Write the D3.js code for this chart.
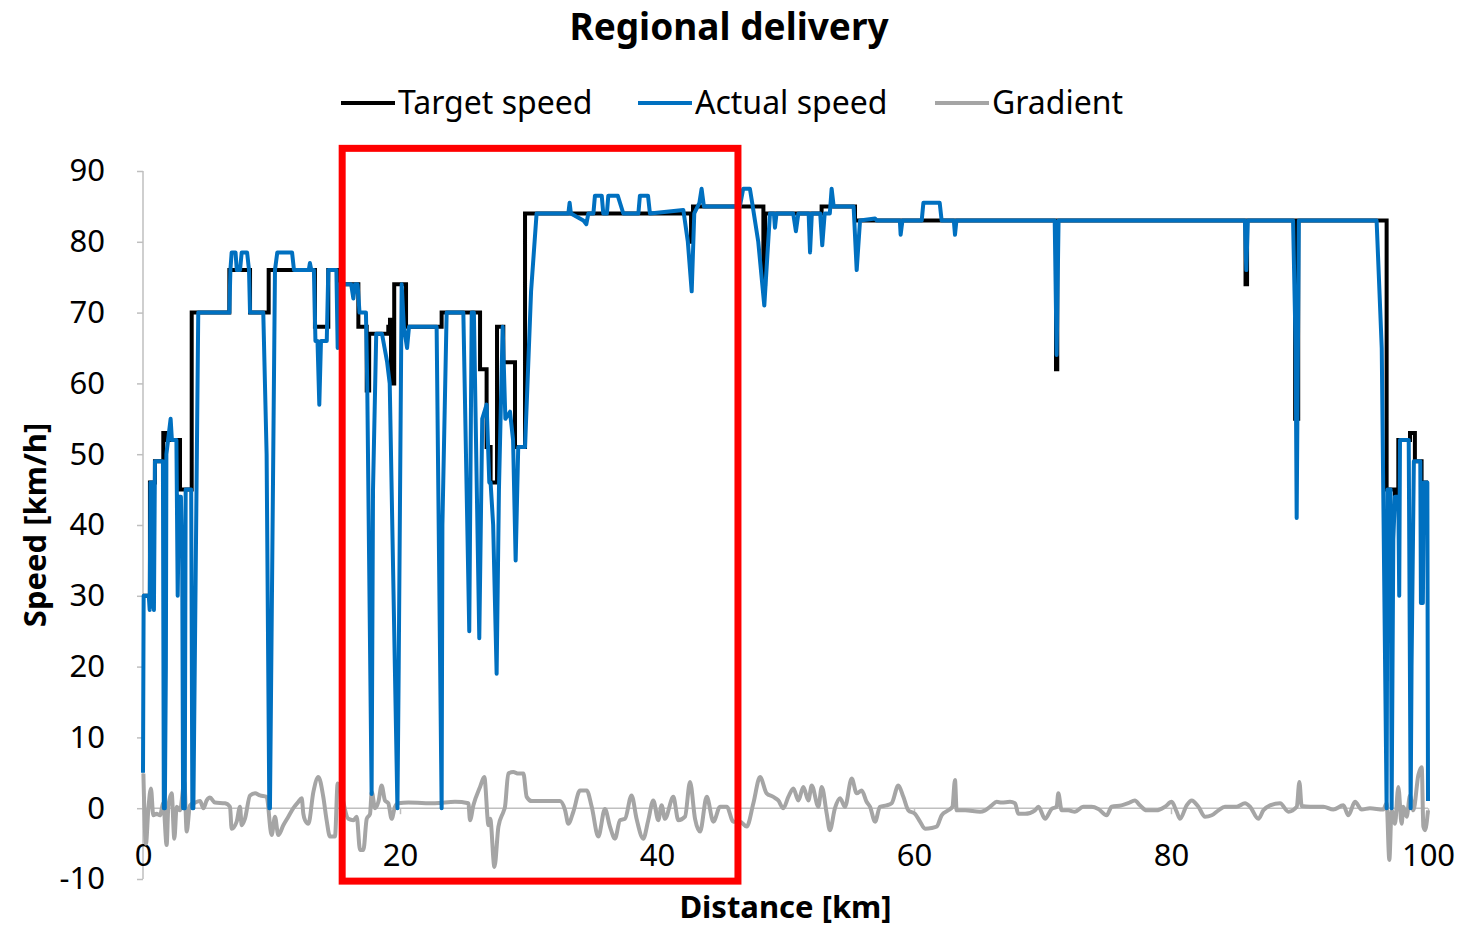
<!DOCTYPE html>
<html>
<head>
    <title>Regional delivery</title>
    <meta charset="utf-8">
    <style type="text/css">
        body { margin: 0; background: #fff; }
        text { font-family: "Noto Sans", "Open Sans", sans-serif; fill: #000; }
        .axis path, .axis line { fill: none; stroke: #bfbfbf; stroke-width: 1.5; }
        .axis text { font-size: 31px; }
        .title { font-size: 37px; font-weight: bold; }
        .axis-title { font-size: 31px; font-weight: bold; }
        .legend text { font-size: 32px; }
    </style>
</head>
<body>
<svg width="1467" height="926"></svg>

<script src="https://cdnjs.cloudflare.com/ajax/libs/d3/7.8.5/d3.min.js"></script>
<script type="text/javascript">
    /*=========DATA=========*/
    var xTicks = [0, 20, 40, 60, 80, 100];
    var yTicks = [-10, 0, 10, 20, 30, 40, 50, 60, 70, 80, 90];
    var seriesNames = ['Target speed', 'Actual speed', 'Gradient'];

    // target speed: step points [km, km/h]
    var targetKm  = [0, 0.54, 0.93, 1.58, 1.80, 2.88, 3.40, 3.79, 6.72, 8.33, 9.78, 13.38, 14.42, 15.25, 16.76, 17.41, 17.60, 19.09, 19.22, 19.30, 19.55, 20.47, 23.24, 26.23, 26.74, 27.05, 27.55, 28.04, 28.95, 29.73, 42.65, 42.80, 48.28, 48.41, 52.81, 55.41, 71.05, 71.15, 85.80, 85.92, 89.66, 89.90, 96.78, 97.43, 97.69, 98.60, 98.98, 99.50, 100];
    var targetVal = [30, 46, 49, 53, 52, 45, 45, 70, 76, 70, 76, 68, 76, 74, 68, 59, 67, 68, 69, 60, 74, 68, 70, 62, 51, 46, 68, 63, 51, 84, 80, 85, 74, 84, 85, 83, 62, 83, 74, 83, 55, 83, 45, 44, 52, 53, 49, 46, 46];

    // actual speed [km, km/h]
    var actualKm  = [0, 0.05, 0.45, 0.52, 0.58, 0.75, 0.80, 0.85, 0.93, 1.55, 1.62, 1.70, 1.78, 1.82, 2.15, 2.25, 2.60, 2.70, 2.80, 2.95, 3.05, 3.12, 3.25, 3.32, 3.75, 3.84, 3.92, 4.30, 6.72, 6.80, 6.90, 7.20, 7.30, 7.55, 7.68, 8.10, 8.25, 8.33, 9.36, 9.62, 9.83, 9.88, 10.27, 10.45, 11.60, 11.75, 12.90, 12.99, 13.10, 13.30, 13.42, 13.58, 13.72, 13.85, 14.30, 14.42, 15.05, 15.15, 15.30, 16.20, 16.37, 16.50, 16.70, 16.85, 17.35, 17.45, 17.79, 17.90, 18.15, 18.60, 18.80, 19.00, 19.20, 19.80, 19.90, 20.13, 20.30, 20.55, 20.70, 22.85, 23.24, 23.30, 23.63, 24.93, 25.39, 25.58, 25.75, 26.17, 26.40, 26.74, 26.95, 27.05, 27.25, 27.52, 27.70, 27.99, 28.20, 28.56, 28.80, 29.00, 29.20, 29.73, 30.20, 30.63, 33.10, 33.20, 33.30, 34.27, 34.50, 34.66, 35.05, 35.17, 35.70, 35.82, 36.10, 36.21, 36.95, 37.38, 38.55, 38.67, 39.30, 39.45, 42.05, 42.40, 42.70, 42.90, 43.30, 43.47, 43.65, 46.45, 46.71, 47.23, 47.45, 47.88, 48.35, 48.79, 49.10, 49.18, 49.30, 50.60, 50.81, 51.00, 51.80, 51.91, 52.05, 52.70, 52.86, 53.05, 53.45, 53.59, 53.75, 55.30, 55.54, 55.80, 56.97, 57.10, 58.90, 58.96, 59.10, 60.60, 60.73, 62.00, 62.15, 63.10, 63.19, 63.30, 70.95, 71.10, 71.25, 85.75, 85.86, 85.98, 89.50, 89.70, 89.78, 89.95, 96.00, 96.40, 96.78, 96.85, 97.09, 97.17, 97.30, 97.43, 97.69, 97.76, 97.82, 98.50, 98.54, 98.65, 98.72, 98.90, 99.40, 99.45, 99.60, 99.68, 99.95, 100];
    var actualVal = [5, 30, 30, 28, 46, 46, 29, 28, 49, 49, 0, 0, 20, 50, 55, 52, 52, 30, 44, 44, 36, 0, 0, 45, 45, 0, 0, 70, 70, 76, 78.5, 78.5, 76, 76, 78.5, 78.5, 76, 70, 70, 50, 0, 0, 76, 78.5, 78.5, 76, 76, 77, 76, 76, 66, 66, 57, 66, 66, 76, 76, 65, 74, 74, 72, 74, 74, 70, 70, 60, 2, 45, 67, 67, 65, 63, 60, 0, 20, 74, 68, 65, 68, 68, 0, 40, 70, 70, 25, 70, 70, 24, 55, 57, 46, 46, 40, 19, 45, 68, 55, 56, 52, 35, 51, 51, 73, 84, 84, 85.5, 84, 83, 82.5, 84, 84, 86.5, 86.5, 84, 84, 86.5, 86.5, 84, 84, 86.5, 86.5, 84, 84.5, 80, 73, 84, 85.5, 87.5, 85, 85, 87.5, 87.5, 85, 80, 71, 84, 84, 82, 84, 84, 81.5, 84, 84, 78.5, 84, 84, 79.5, 84, 84, 87.5, 85, 85, 76, 83, 83.3, 83, 83, 81, 83, 83, 85.5, 85.5, 83, 83, 81, 83, 83, 64, 83, 83, 76, 83, 83, 65, 41, 83, 83, 65, 0, 45, 45, 0, 38, 44, 44, 30, 52, 52, 38, 0, 20, 49, 49, 29, 29, 46, 46, 1];

    // gradient [km, %]
    var gradKm  = [0.03, 0.23, 0.41, 0.62, 0.80, 1.06, 1.32, 1.58, 1.84, 1.97, 2.23, 2.44, 2.62, 2.88, 3.22, 3.40, 3.66, 4.05, 4.44, 4.70, 4.96, 5.21, 5.60, 6.38, 6.77, 6.90, 7.29, 7.55, 7.68, 7.93, 8.33, 8.72, 9.10, 9.62, 10.01, 10.27, 10.53, 10.92, 11.31, 11.70, 12.09, 12.35, 12.48, 12.61, 12.87, 13.26, 13.65, 14.03, 14.29, 14.55, 14.94, 15.15, 15.98, 16.37, 16.63, 16.89, 17.15, 17.41, 17.67, 17.80, 18.06, 18.32, 18.57, 18.83, 19.09, 19.35, 19.61, 19.87, 20.65, 22.72, 24.28, 25.32, 25.45, 25.71, 26.23, 26.56, 26.89, 27.02, 27.35, 27.66, 28.05, 28.17, 28.43, 28.82, 29.21, 29.60, 29.86, 30.25, 32.45, 32.85, 33.10, 33.49, 34.01, 34.53, 34.92, 35.43, 35.95, 36.34, 36.73, 37.12, 37.51, 38.02, 38.41, 38.93, 39.32, 39.71, 40.10, 40.36, 40.62, 41.27, 41.66, 42.18, 42.57, 42.96, 43.35, 43.87, 44.39, 44.91, 45.43, 45.94, 46.46, 46.98, 47.50, 48.02, 48.53, 49.05, 49.44, 49.83, 50.22, 50.61, 51.00, 51.39, 51.78, 52.04, 52.56, 52.82, 53.21, 53.45, 53.85, 54.24, 54.63, 55.15, 55.54, 55.93, 56.31, 56.58, 56.97, 57.35, 57.87, 58.26, 58.78, 59.17, 59.56, 60.08, 60.47, 60.86, 61.38, 61.77, 62.15, 62.67, 62.99, 63.19, 63.32, 63.97, 65.14, 65.53, 66.05, 66.43, 66.82, 67.47, 67.86, 68.12, 68.64, 69.42, 69.68, 70.20, 70.71, 71.10, 71.23, 71.49, 72.00, 72.52, 73.17, 73.82, 74.34, 74.99, 75.38, 76.15, 76.67, 77.19, 77.58, 78.10, 78.88, 79.53, 80.05, 80.44, 80.70, 81.22, 81.61, 82.13, 82.65, 83.17, 83.69, 84.20, 84.85, 85.11, 85.76, 86.15, 86.80, 87.19, 87.71, 88.49, 89.14, 89.79, 89.99, 90.17, 90.82, 91.86, 92.63, 93.41, 93.80, 94.32, 94.84, 95.48, 96.52, 96.78, 96.99, 97.17, 97.43, 97.69, 97.95, 98.08, 98.34, 98.60, 98.86, 99.25, 99.51, 99.64, 99.77, 100];
    var gradVal = [4.9, -5.0, -0.3, 2.8, -1.0, -0.8, -1.0, 0.7, -5.2, 0.2, 2.1, -4.3, 0.2, -0.3, 3.7, -3.3, 0.4, 0.8, 1.0, 0.0, 1.1, 1.5, 0.8, 0.7, 0.2, -2.9, -1.9, 0.2, -2.4, -1.5, 1.8, 2.1, 1.8, 1.6, -3.8, -1.2, -3.8, -2.4, -1.2, 0.0, 0.9, 1.4, -0.8, -1.7, -2.2, 2.3, 4.4, 1.6, -1.7, -4.0, -4.0, 3.5, -1.5, -1.7, -1.2, -5.9, -5.9, -1.5, -0.8, 2.3, 0.0, 0.9, 3.2, 1.1, 0.7, -1.5, 0.2, 0.7, 0.8, 0.7, 0.9, 0.7, -1.7, 0.4, 3.0, 4.4, -2.4, -1.5, -8.3, -2.6, -0.5, 0.2, 4.9, 5.1, 4.9, 4.9, 1.6, 1.0, 1.0, -0.3, -2.2, -0.5, 2.5, 2.5, 0.2, -4.0, -0.1, -2.6, -4.3, -1.7, -1.5, 1.8, -1.5, -4.3, -1.7, 1.1, -1.7, 0.4, -1.5, 1.6, -1.7, -1.2, 3.7, -1.5, -3.3, 1.6, -1.9, 0.2, 0.2, -1.9, -1.9, -2.6, 0.7, 4.4, 2.1, 1.6, 1.1, 0.0, 1.6, 2.8, 1.1, 3.0, 1.1, 3.2, 0.2, 3.0, -0.8, -3.1, 0.0, 1.4, 0.2, 4.2, 2.1, 2.5, 0.9, 0.2, -1.9, 0.2, 0.4, 0.7, 3.2, 1.6, -0.3, -0.8, -1.9, -2.9, -2.8, -2.6, -1.0, -0.3, 0.2, 4.0, -0.3, -0.3, -0.5, -0.3, 0.4, 0.9, 0.8, 0.9, 0.7, -0.8, -0.8, -0.3, 0.2, -1.5, -0.1, 0.2, 2.1, -0.3, -0.3, -0.5, 0.2, 0.2, -0.1, -1.0, 0.2, 0.4, 0.7, 1.1, 0.4, -0.3, -0.3, 0.2, 0.9, -0.5, -1.5, 0.4, 1.1, 0.2, -1.2, -1.0, -0.3, 0.2, 0.2, 0.2, 0.7, 0.2, -1.5, -0.3, 0.4, 0.7, -0.5, 0.2, 3.7, 0.3, 0.2, 0.2, -0.2, 0.4, -1.0, 0.9, -0.2, 0.0, -0.2, 0.7, -7.3, -0.3, -2.2, 3.0, -2.2, 0.2, -1.2, 1.8, -0.3, 4.7, 5.8, -2.6, -3.1, -0.3];

    // highlighted section (km / km/h)
    var boxKm = [15.5, 46.3];
    var boxVal = [-10.3, 93.2];

    /*===========COLOR=======*/
    var colors = ['#000000', '#0070c0', '#a5a5a5'];

    /*=====SIZE======*/
    var margin = { top: 171, right: 39, bottom: 47, left: 143 };
    var svgWidth = 1467, svgHeight = 926;
    var width = svgWidth - margin.left - margin.right;
    var height = svgHeight - margin.top - margin.bottom;

    var xScale = d3.scaleLinear().domain([0, 100]).range([0, width]);
    var yScale = d3.scaleLinear().domain([-10, 90]).range([height, 0]);

    var svg = d3.select('svg');
    var focus = svg.append('g')
        .attr('transform', 'translate(' + margin.left + ',' + margin.top + ')');

    // y axis
    var yAxis = d3.axisLeft(yScale).tickValues(yTicks).tickSize(6).tickPadding(32)
        .tickFormat(d => String(d));
    focus.append('g').attr('class', 'axis').call(yAxis)
        .call(g => g.select('.domain').attr('d', 'M0,' + height + 'V0'));

    // x axis on the zero line
    var xAxis = d3.axisBottom(xScale).tickValues(xTicks).tickSize(6).tickPadding(30)
        .tickFormat(d => String(d));
    focus.append('g').attr('class', 'axis')
        .attr('transform', 'translate(0,' + yScale(0) + ')')
        .call(xAxis)
        .call(g => g.select('.domain').attr('d', 'M0,0H' + width));
    focus.selectAll('.axis .tick line').attr('stroke', '#bfbfbf');

    // lines
    var toPts = (ks, vs) => ks.map((k, i) => [k, vs[i]]);
    var lineLin = d3.line().x(d => xScale(d[0])).y(d => yScale(d[1]));
    var lineStep = d3.line().x(d => xScale(d[0])).y(d => yScale(d[1])).curve(d3.curveStepAfter);
    var lineSmooth = d3.line().x(d => xScale(d[0])).y(d => yScale(d[1])).curve(d3.curveMonotoneX);

    focus.append('path').attr('d', lineSmooth(toPts(gradKm, gradVal)))
        .attr('fill', 'none').attr('stroke', colors[2]).attr('stroke-width', 4)
        .attr('stroke-linejoin', 'round');
    focus.append('path').attr('d', lineStep(toPts(targetKm, targetVal)))
        .attr('fill', 'none').attr('stroke', colors[0]).attr('stroke-width', 4);
    focus.append('path').attr('d', lineLin(toPts(actualKm, actualVal)))
        .attr('fill', 'none').attr('stroke', colors[1]).attr('stroke-width', 4)
        .attr('stroke-linejoin', 'round');

    // red highlight box
    focus.append('rect')
        .attr('x', xScale(boxKm[0])).attr('y', yScale(boxVal[1]))
        .attr('width', xScale(boxKm[1]) - xScale(boxKm[0]))
        .attr('height', yScale(boxVal[0]) - yScale(boxVal[1]))
        .attr('fill', 'none').attr('stroke', '#ff0000').attr('stroke-width', 7);

    // titles
    svg.append('text').attr('class', 'title')
        .attr('x', 729).attr('y', 40).attr('text-anchor', 'middle')
        .text('Regional delivery');
    svg.append('text').attr('class', 'axis-title')
        .attr('x', margin.left + xScale(50)).attr('y', 918).attr('text-anchor', 'middle')
        .text('Distance [km]');
    svg.append('text').attr('class', 'axis-title')
        .attr('transform', 'translate(46,' + (margin.top + yScale(40)) + ') rotate(-90)')
        .attr('text-anchor', 'middle')
        .text('Speed [km/h]');

    // legend
    var legendX = [341, 638, 935];
    var legend = svg.append('g').attr('class', 'legend');
    seriesNames.forEach(function (name, i) {
        legend.append('line')
            .attr('x1', legendX[i]).attr('x2', legendX[i] + 54)
            .attr('y1', 103).attr('y2', 103)
            .attr('stroke', colors[i]).attr('stroke-width', 4);
        legend.append('text')
            .attr('x', legendX[i] + 57).attr('y', 114)
            .text(name);
    });
</script>
</body>
</html>
